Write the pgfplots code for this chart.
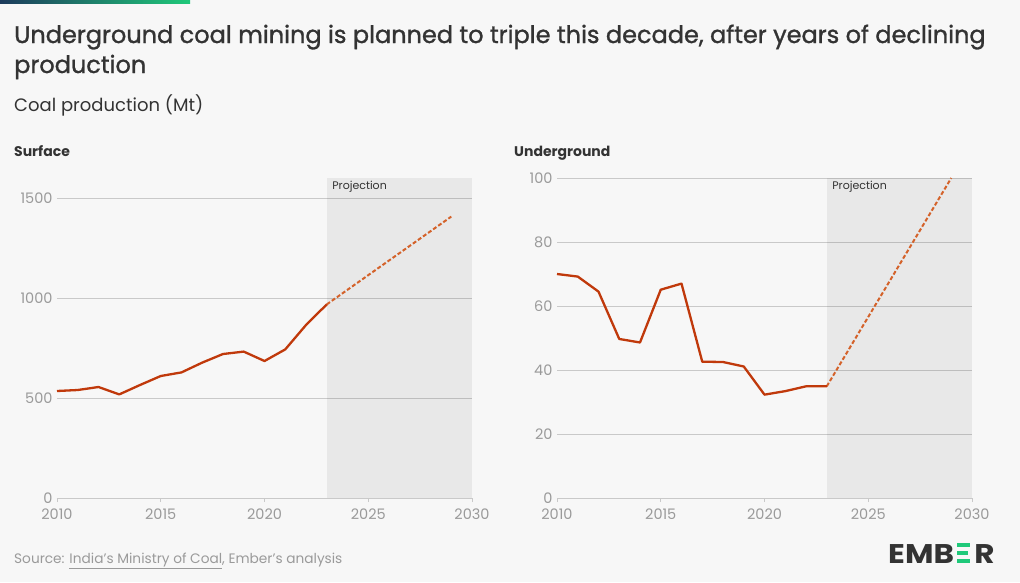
\documentclass[border=0pt]{standalone}
\usepackage{pgfplots}
\pgfplotsset{compat=1.18}
\usepackage{fontspec}
\setmainfont{Poppins}
\newfontfamily\titlefont{Poppins}[FakeBold=1.2]
\definecolor{bg}{HTML}{F7F7F7}
\definecolor{gridc}{HTML}{C9C9C9}
\definecolor{tickc}{HTML}{9A9A9A}
\definecolor{linec}{HTML}{C0390B}
\definecolor{projc}{HTML}{D4622A}
\definecolor{txt}{HTML}{333333}
\definecolor{embgreen}{HTML}{1FC97A}
\definecolor{navy}{HTML}{1D3B5C}

\pgfplotstableread{
year val
2010 535
2011 540
2012 555
2013 518
2014 565
2015 610
2016 628
2017 677
2018 720
2019 732
2020 685
2021 743
2022 865
2023 968
}\surfhist
\pgfplotstableread{
year val
2023 968
2029 1407
}\surfproj
\pgfplotstableread{
year val
2010 70.0
2011 69.2
2012 64.5
2013 49.7
2014 48.6
2015 65.1
2016 67.0
2017 42.6
2018 42.5
2019 41.1
2020 32.3
2021 33.4
2022 34.9
2023 34.9
}\undhist
\pgfplotstableread{
year val
2023 34.9
2029 100
}\undproj

\pgfplotsset{
  emb/.style={
    scale only axis, width=415pt, height=320pt,
    xmin=2010, xmax=2030, xtick={2010,2015,2020,2025,2030},
    axis lines*=left,
    y axis line style={draw=none},
    x axis line style={draw=gridc, line width=0.8pt},
    xtick align=outside,
    major tick length=4pt,
    x tick style={draw=gridc, line width=0.8pt},
    y tick style={draw=none},
    ymajorgrids, grid style={draw=gridc, line width=0.7pt},
    tick label style={font=\fontsize{14.5}{15}\selectfont, text=tickc},
    /pgf/number format/1000 sep={},
    /pgf/number format/assume math mode=true,
    xticklabel style={yshift=-3pt},
    yticklabel style={xshift=-1pt},
    clip=false,
  }
}

\begin{document}
\begin{tikzpicture}
\fill[bg] (0pt,0pt) rectangle (1020pt,-582pt);
\shade[left color=navy, right color=embgreen] (0pt,0pt) rectangle (190pt,-3.5pt);

\node[anchor=base west, inner sep=0, text=txt, align=left,
  font=\fontsize{24}{30}\titlefont] at (14pt,-73pt)
  {Underground coal mining is planned to triple this decade, after years of declining\\production};
\node[anchor=base west, inner sep=0, text=txt, font=\fontsize{18}{20}\selectfont] at (14pt,-111pt)
  {Coal production (Mt)};

\node[anchor=base west, inner sep=0, text=txt, font=\fontsize{14}{16}\selectfont\bfseries] at (14pt,-156pt) {Surface};
\node[anchor=base west, inner sep=0, text=txt, font=\fontsize{14}{16}\selectfont\bfseries] at (514pt,-156pt) {Underground};

\begin{axis}[emb, at={(57pt,-498pt)}, anchor=south west,
  ymin=0, ymax=1600, ytick={0,500,1000,1500}]
  \addplot[fill=black, fill opacity=0.06, draw=none] coordinates {(2023,0) (2023,1600) (2030,1600) (2030,0)} -- cycle;
  \node[anchor=north west, font=\fontsize{11}{12}\selectfont, text=txt, xshift=2pt] at (axis cs:2023,1600) {Projection};
  \addplot[projc, line width=2pt, dash pattern=on 4pt off 2.2pt] table[x=year,y=val] {\surfproj};
  \addplot[linec, line width=2.3pt, line join=round] table[x=year,y=val] {\surfhist};
\end{axis}

\begin{axis}[emb, at={(557pt,-498pt)}, anchor=south west,
  ymin=0, ymax=100, ytick={0,20,40,60,80,100}]
  \addplot[fill=black, fill opacity=0.06, draw=none] coordinates {(2023,0) (2023,100) (2030,100) (2030,0)} -- cycle;
  \node[anchor=north west, font=\fontsize{11}{12}\selectfont, text=txt, xshift=2pt] at (axis cs:2023,100) {Projection};
  \addplot[projc, line width=2pt, dash pattern=on 4pt off 2.2pt] table[x=year,y=val] {\undproj};
  \addplot[linec, line width=2.3pt, line join=round] table[x=year,y=val] {\undhist};
\end{axis}

\node[anchor=base west, inner sep=0, text=tickc, font=\fontsize{13.7}{14}\selectfont] at (14pt,-563pt)
  {Source: \underline{India's Ministry of Coal}, Ember's analysis};

% EMBER logo
\node[anchor=base west, inner sep=0, text=txt, font=\fontsize{27}{28}\selectfont\bfseries, xscale=1.15, transform shape] (emb) at (888pt,-563pt) {EMB};
\fill[embgreen] ([xshift=3pt]emb.base east) rectangle ++(12.5pt,3.6pt);
\fill[embgreen] ([xshift=3pt,yshift=8.2pt]emb.base east) rectangle ++(11pt,3.6pt);
\fill[embgreen] ([xshift=3pt,yshift=16.4pt]emb.base east) rectangle ++(12.5pt,3.6pt);
\node[anchor=base west, inner sep=0, text=txt, font=\fontsize{27}{28}\selectfont\bfseries, xscale=1.15, transform shape] at ([xshift=20pt]emb.base east) {R};
\end{tikzpicture}
\end{document}
